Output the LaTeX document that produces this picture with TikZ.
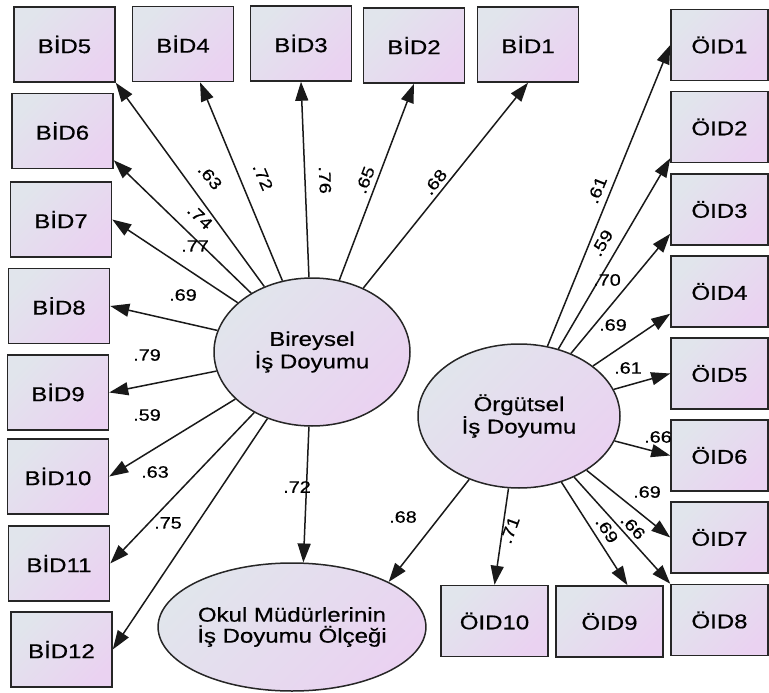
\documentclass[tikz,border=0pt]{standalone}
\usepackage{fontspec}
\setmainfont{Liberation Sans}[FakeStretch=1.2, FakeBold=0.5]
\usepackage{tikz}
\usetikzlibrary{arrows.meta, shapes.geometric}
\definecolor{boxtop}{HTML}{E1E5EC}
\definecolor{boxbot}{HTML}{EAD2F1}

\begin{document}
\begin{tikzpicture}[
  x=1pt, y=-1pt,
  item/.style={draw=black!85, line width=1.5pt, left color=boxtop, right color=boxbot, shading angle=45, minimum width=101pt, minimum height=75pt, inner sep=0pt, font=\fontsize{20}{22}\selectfont},
  oitem/.style={item, minimum width=97pt, minimum height=71pt},
  latent/.style={ellipse, draw=black!85, line width=1.5pt, left color=boxtop, right color=boxbot, shading angle=45, inner sep=0pt, align=center, font=\fontsize{20}{21}\selectfont},
  arrow/.style={-{Triangle[length=19pt, width=13pt]}, line width=1.5pt, draw=black!90},
  coef/.style={font=\fontsize{16.5}{18}\selectfont, inner sep=0pt}
]
  \useasboundingbox (0,0) rectangle (769,693);

  % latent variables
  \node[latent, minimum width=196pt, minimum height=148pt] (bir) at (312,352) {Bireysel\\İş Doyumu};
  \node[latent, minimum width=202pt, minimum height=144pt] (org) at (519,416) {Örgütsel\\İş Doyumu};
  \node[latent, minimum width=248pt, minimum height=128pt] (okul) at (292,627) {Okul Müdürlerinin\\İş Doyumu Ölçeği};

  % bireysel items
  \node[item] (bid5) at (64.5,44.5) {BİD5};
  \node[item] (bid4) at (183,44) {BİD4};
  \node[item] (bid3) at (301,43.5) {BİD3};
  \node[item] (bid2) at (414,45.5) {BİD2};
  \node[item] (bid1) at (528,44.5) {BİD1};
  \node[item] (bid6) at (62.5,131) {BİD6};
  \node[item] (bid7) at (61,219.5) {BİD7};
  \node[item] (bid8) at (59,306) {BİD8};
  \node[item] (bid9) at (58,392.5) {BİD9};
  \node[item] (bid10) at (58,476.5) {BİD10};
  \node[item] (bid11) at (59,563.5) {BİD11};
  \node[item] (bid12) at (61.5,649.5) {BİD12};

  % orgutsel items
  \node[oitem] (oid1) at (719.5,45) {ÖID1};
  \node[oitem] (oid2) at (719.5,127) {ÖID2};
  \node[oitem] (oid3) at (719.5,209.5) {ÖID3};
  \node[oitem] (oid4) at (719.5,291.5) {ÖID4};
  \node[oitem] (oid5) at (719.5,373.5) {ÖID5};
  \node[oitem] (oid6) at (719.5,455.5) {ÖID6};
  \node[oitem] (oid7) at (719.5,537.5) {ÖID7};
  \node[oitem] (oid8) at (719.5,620) {ÖID8};
  \node[oitem, minimum width=107pt] (oid9) at (609.5,621.5) {ÖID9};
  \node[oitem, minimum width=107pt] (oid10) at (494.5,621) {ÖID10};

  \draw[arrow] (bir) -- (bid5.south east);
  \draw[arrow] (bir) -- ([xshift=17pt]bid4.south);
  \draw[arrow] (bir) -- (bid3.south);
  \draw[arrow] (bir) -- (bid2.south);
  \draw[arrow] (bir) -- (bid1.south);
  \draw[arrow] (bir) -- ([yshift=9pt]bid6.south east);
  \draw[arrow] (bir) -- (bid7.east);
  \draw[arrow] (bir) -- (bid8.east);
  \draw[arrow] (bir) -- (bid9.east);
  \draw[arrow] (bir) -- (bid10.east);
  \draw[arrow] (bir) -- (bid11.east);
  \draw[arrow] (bir) -- (bid12.east);
  \draw[arrow] (bir) -- (okul.80);

  \draw[arrow] (org) -- (oid1.west);
  \draw[arrow] (org) -- ([yshift=5pt]oid2.south west);
  \draw[arrow] (org) -- ([yshift=12pt]oid3.south west);
  \draw[arrow] (org) -- ([yshift=14pt]oid4.south west);
  \draw[arrow] (org) -- (oid5.west);
  \draw[arrow] (org) -- (oid6.west);
  \draw[arrow] (org) -- (oid7.west);
  \draw[arrow] (org) -- (oid8.north west);
  \draw[arrow] (org) -- ([xshift=18pt]oid9.north);
  \draw[arrow] (org) -- (oid10.north);
  \draw[arrow] (org) -- (okul.25);

  % loadings
  \node[coef, rotate=-50] (w5) at (210,177) {.63};
  \node[coef, rotate=-67] (w4) at (263,177) {.72};
  \node[coef, rotate=-88] (w3) at (325,180) {.76};
  \node[coef, rotate=69] (w2) at (365,180) {.65};
  \node[coef, rotate=51] (w1) at (435,182) {.68};
  \node[coef, rotate=-44] (w6) at (200,217) {.74};
  \node[coef] (w7) at (195,246) {.77};
  \node[coef] (w8) at (183,295) {.69};
  \node[coef] (w9) at (147,355) {.79};
  \node[coef] (w10) at (147,415) {.59};
  \node[coef] (w11) at (155,472) {.63};
  \node[coef] (w12) at (168,523) {.75};
  \node[coef] (wb) at (297,487) {.72};
  \node[coef] (wo) at (403,517) {.68};

  \node[coef, rotate=68] (v1) at (597,190) {.61};
  \node[coef, rotate=60] (v2) at (602,243) {.59};
  \node[coef] (v3) at (607,280) {.70};
  \node[coef] (v4) at (613,325) {.69};
  \node[coef] (v5) at (628,368) {.61};
  \node[coef] (v6) at (658,437) {.66};
  \node[coef] (v7) at (647,492) {.69};
  \node[coef, rotate=-47] (v8) at (633,527) {.66};
  \node[coef, rotate=-57] (v9) at (607,530) {.69};
  \node[coef, rotate=70] (v10) at (510,530) {.71};
\end{tikzpicture}
\end{document}
